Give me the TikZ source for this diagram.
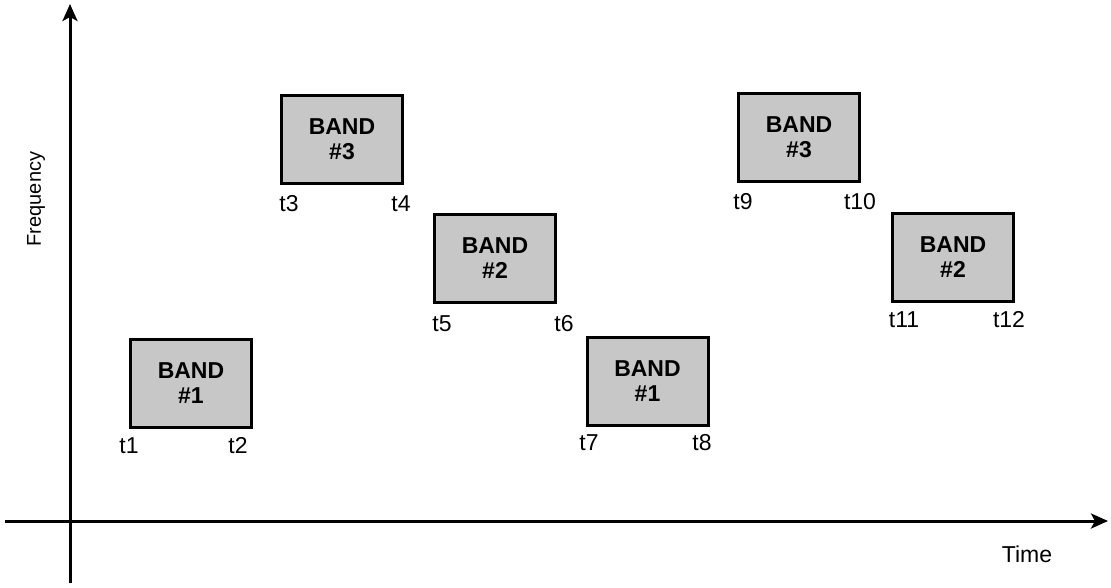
\documentclass[tikz,border=0pt]{standalone}
\usepackage{fontspec}
\setmainfont{Liberation Sans}
\usetikzlibrary{arrows.meta}
\tikzset{
  band/.style={draw=black, line width=3pt, fill=black!22, minimum width=121pt, minimum height=88pt, inner sep=0pt, align=center, font=\bfseries\fontsize{23}{25}\selectfont},
  tlabel/.style={inner sep=0pt, font=\fontsize{23}{25}\selectfont},
  axis/.style={line width=3pt, -{Stealth[length=17pt,width=15pt,inset=4pt]}},
}
\begin{document}
\begin{tikzpicture}[x=1pt,y=-1pt]
\useasboundingbox (0,0) rectangle (1111,587);
% axes
\coordinate (ybot) at (70,583);
\coordinate (ytop) at (70,4);
\coordinate (xleft) at (5,521);
\coordinate (xright) at (1108,521);
\draw[axis] (ybot) -- (ytop);
\draw[axis] (xleft) -- (xright);
\node[tlabel, rotate=90, font=\fontsize{20}{22}\selectfont] (freq) at (36,199) {Frequency};
\node[tlabel] (time) at (1027,554) {Time};
% bands
\node[band] (b1) at (191,383) {BAND\\\#1};
\node[band] (b3a) at (342,139.5) {BAND\\\#3};
\node[band] (b2a) at (495,258.5) {BAND\\\#2};
\node[band] (b1b) at (647.5,381.5) {BAND\\\#1};
\node[band] (b3b) at (799,137) {BAND\\\#3};
\node[band] (b2b) at (953,257.5) {BAND\\\#2};
% time labels
\node[tlabel] (t1) at (129,446) {t1};
\node[tlabel] (t2) at (238,446) {t2};
\node[tlabel] (t3) at (289,204) {t3};
\node[tlabel] (t4) at (401,204) {t4};
\node[tlabel] (t5) at (442,324) {t5};
\node[tlabel] (t6) at (564,324) {t6};
\node[tlabel] (t7) at (589,443) {t7};
\node[tlabel] (t8) at (702,443) {t8};
\node[tlabel] (t9) at (743,202) {t9};
\node[tlabel] (t10) at (860,202) {t10};
\node[tlabel] (t11) at (904,320) {t11};
\node[tlabel] (t12) at (1009,320) {t12};
\end{tikzpicture}
\end{document}
